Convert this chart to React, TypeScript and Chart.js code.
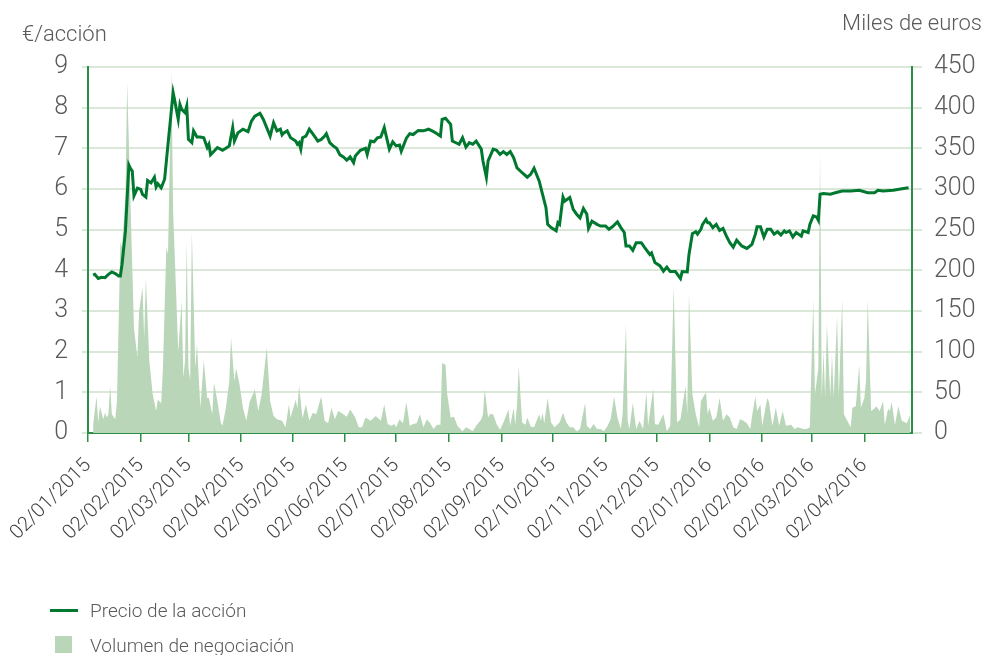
import React, { useEffect, useRef } from 'react';
import { Chart, registerables } from 'chart.js';

Chart.register(...registerables);

// x values are calendar days counted from 02/01/2015
const tickDays = [0, 31, 59, 90, 120, 151, 181, 212, 243, 273, 304, 334, 365, 396, 425, 456];
const tickLabels = [
  '02/01/2015', '02/02/2015', '02/03/2015', '02/04/2015', '02/05/2015', '02/06/2015',
  '02/07/2015', '02/08/2015', '02/09/2015', '02/10/2015', '02/11/2015', '02/12/2015',
  '02/01/2016', '02/02/2016', '02/03/2016', '02/04/2016',
];

const priceDays = [
  3, 4, 6, 8, 10, 12, 14, 16, 18, 19, 20, 22, 24, 25, 26, 27, 29, 31, 32, 34, 35, 37, 39, 40, 41, 43, 45, 47,
  50, 51, 53, 54, 55, 57, 58, 59, 61, 62, 64, 66, 68, 70, 71, 72, 74, 76, 79, 81, 83, 85, 86, 88, 91, 93, 94,
  96, 98, 101, 103, 107, 109, 111, 113, 114, 115, 117, 119, 122, 123, 124, 125, 126, 128, 130, 133, 135, 137,
  139, 140, 142, 144, 146, 148, 150, 152, 154, 156, 157, 160, 163, 164, 166, 168, 170, 172, 174, 177, 179, 181,
  183, 184, 187, 189, 191, 194, 197, 200, 203, 205, 207, 208, 210, 213, 214, 218, 220, 222, 224, 226, 228, 231,
  232, 234, 235, 238, 240, 242, 244, 246, 248, 250, 252, 255, 258, 260, 262, 265, 267, 269, 270, 272, 275, 276,
  277, 279, 280, 283, 285, 287, 289, 291, 293, 294, 296, 299, 301, 304, 306, 308, 311, 313, 315, 316, 318, 320,
  322, 325, 327, 330, 331, 333, 336, 338, 340, 342, 345, 348, 349, 352, 353, 355, 357, 358, 360, 361, 363, 364,
  365, 367, 369, 371, 373, 375, 377, 379, 381, 384, 387, 390, 392, 393, 395, 397, 399, 401, 403, 405, 407, 409,
  410, 412, 414, 416, 419, 420, 423, 424, 426, 428, 429, 430, 432, 436, 440, 443, 448, 453, 458, 462, 464, 467,
  473, 479, 482,
];
const priceValues = [
  3.88, 3.9, 3.8, 3.83, 3.82, 3.9, 3.96, 3.92, 3.86, 3.86, 4.15, 4.97, 6.59, 6.5, 6.44, 5.83, 6.02, 5.99, 5.87,
  5.8, 6.21, 6.15, 6.29, 6.05, 6.13, 6.03, 6.24, 7.1, 8.37, 8.16, 7.71, 8.08, 7.96, 7.88, 8.04, 7.22, 7.14, 7.43,
  7.28, 7.28, 7.26, 7.02, 7.1, 6.84, 6.93, 7.02, 6.95, 7.0, 7.06, 7.51, 7.18, 7.38, 7.47, 7.43, 7.41, 7.67, 7.79,
  7.86, 7.71, 7.3, 7.63, 7.43, 7.47, 7.33, 7.38, 7.43, 7.26, 7.18, 7.1, 7.14, 6.98, 7.26, 7.3, 7.47, 7.3, 7.18,
  7.22, 7.3, 7.36, 7.14, 7.06, 7.0, 6.84, 6.79, 6.71, 6.79, 6.65, 6.81, 6.95, 7.0, 6.85, 7.18, 7.16, 7.26, 7.28,
  7.51, 6.98, 7.16, 7.06, 7.08, 6.93, 7.25, 7.36, 7.34, 7.44, 7.43, 7.47, 7.41, 7.36, 7.3, 7.71, 7.74, 7.59, 7.18,
  7.1, 7.26, 7.03, 7.14, 7.1, 7.18, 6.98, 6.69, 6.29, 6.69, 6.98, 6.95, 6.85, 6.92, 6.85, 6.92, 6.77, 6.52, 6.4,
  6.29, 6.36, 6.51, 6.2, 5.87, 5.54, 5.13, 5.05, 4.97, 5.17, 5.13, 5.8, 5.7, 5.79, 5.5, 5.38, 5.29, 5.52, 5.38,
  5.03, 5.21, 5.13, 5.09, 5.09, 5.01, 5.07, 5.19, 5.05, 4.93, 4.6, 4.6, 4.49, 4.68, 4.68, 4.56, 4.39, 4.43, 4.19,
  4.11, 3.98, 4.08, 3.97, 3.97, 3.8, 3.97, 3.96, 4.39, 4.9, 4.95, 4.89, 5.01, 5.13, 5.25, 5.17, 5.17, 5.05, 5.13,
  4.98, 5.03, 4.84, 4.68, 4.57, 4.74, 4.6, 4.54, 4.64, 4.89, 5.07, 5.07, 4.82, 5.01, 5.01, 4.89, 4.95, 4.87, 4.97,
  4.93, 4.97, 4.82, 4.93, 4.84, 4.97, 4.93, 5.13, 5.34, 5.31, 5.23, 5.87, 5.89, 5.87, 5.92, 5.95, 5.95, 5.97, 5.91,
  5.91, 5.97, 5.95, 5.97, 6.01, 6.03,
];

const volumeDays = [
  3, 5, 6, 7, 9, 10, 11, 12, 13, 14, 16, 17, 19, 20, 22, 23, 25, 27, 29, 30, 32, 33, 34, 36, 38, 40, 41, 43, 44,
  46, 47, 49, 50, 52, 53, 55, 56, 57, 58, 59, 60, 61, 63, 64, 66, 68, 70, 71, 73, 74, 76, 78, 79, 81, 83, 84, 86,
  87, 89, 91, 93, 95, 97, 98, 100, 102, 105, 107, 109, 111, 114, 116, 118, 119, 122, 123, 124, 126, 128, 130, 132,
  134, 137, 139, 141, 143, 145, 147, 150, 152, 154, 157, 159, 161, 163, 166, 169, 172, 174, 176, 178, 180, 181,
  183, 185, 187, 189, 191, 193, 195, 197, 199, 201, 203, 205, 207, 208, 210, 211, 213, 215, 217, 220, 222, 224,
  226, 228, 231, 232, 233, 235, 236, 238, 240, 242, 244, 247, 248, 250, 251, 252, 253, 255, 257, 258, 260, 262,
  265, 266, 267, 268, 270, 272, 274, 277, 279, 281, 283, 285, 287, 289, 292, 293, 295, 297, 299, 301, 303, 305,
  307, 309, 311, 313, 314, 316, 317, 318, 320, 322, 324, 326, 328, 329, 332, 333, 335, 337, 338, 340, 342, 344,
  346, 348, 349, 351, 352, 353, 355, 357, 359, 360, 361, 363, 364, 365, 367, 369, 371, 373, 375, 377, 379, 381,
  383, 385, 387, 389, 390, 392, 393, 395, 396, 399, 400, 402, 404, 406, 408, 410, 413, 415, 417, 420, 422, 424,
  426, 427, 429, 430, 431, 432, 433, 434, 436, 437, 438, 440, 441, 443, 444, 446, 448, 449, 451, 453, 454, 456,
  457, 458, 460, 462, 463, 465, 467, 468, 470, 471, 472, 474, 476, 478, 481, 483,
];
const volumeValues = [
  10, 45, 13, 33, 17, 25, 19, 23, 58, 23, 17, 39, 234, 228, 293, 431, 281, 129, 93, 150, 179, 117, 191, 89, 48, 27,
  41, 37, 80, 228, 220, 445, 273, 158, 100, 162, 68, 89, 236, 80, 64, 248, 80, 109, 31, 89, 43, 43, 23, 62, 39, 13,
  9, 31, 64, 117, 64, 80, 60, 31, 15, 39, 48, 54, 27, 48, 105, 39, 21, 17, 15, 7, 35, 19, 41, 30, 58, 18, 35, 15,
  25, 23, 45, 15, 12, 31, 17, 27, 23, 20, 29, 19, 7, 7, 19, 15, 21, 15, 35, 11, 9, 11, 7, 17, 12, 38, 9, 11, 12, 23,
  7, 17, 12, 5, 10, 10, 86, 84, 48, 19, 20, 9, 2, 7, 5, 2, 9, 17, 23, 54, 19, 23, 23, 11, 4, 13, 29, 9, 31, 10, 35,
  82, 13, 10, 19, 8, 7, 23, 15, 25, 12, 43, 13, 7, 13, 25, 13, 7, 7, 2, 5, 37, 9, 5, 11, 5, 5, 2, 8, 17, 45, 19, 5,
  23, 134, 15, 5, 37, 5, 15, 5, 50, 9, 55, 11, 10, 19, 23, 2, 9, 181, 13, 17, 31, 58, 23, 172, 48, 23, 7, 39, 43, 50,
  23, 31, 15, 19, 43, 15, 23, 19, 7, 5, 17, 15, 12, 5, 20, 45, 27, 35, 9, 43, 38, 9, 31, 9, 27, 9, 10, 5, 7, 5, 5, 7,
  164, 48, 80, 347, 43, 101, 43, 134, 45, 97, 43, 144, 45, 164, 23, 15, 7, 31, 33, 84, 31, 43, 64, 164, 27, 30, 33,
  27, 39, 10, 30, 27, 38, 10, 33, 15, 12, 23,
];

const FONT = 'Roboto, "Liberation Sans", sans-serif';
const LINE_COLOR = '#00782f';
const FILL_COLOR = '#bad6b9';
const GRID_COLOR = '#dbe8d9';
const AXIS_COLOR = '#2a8f47';
const TEXT_COLOR = '#5a5a5a';

export default function App() {
  const canvasRef = useRef<HTMLCanvasElement | null>(null);

  useEffect(() => {
    document.body.style.margin = '0';
    const canvas = canvasRef.current;
    if (!canvas) return;
    const chart = new Chart(canvas, {
      type: 'line',
      data: {
        datasets: [
          {
            label: 'Precio de la acción',
            data: priceDays.map((d, i) => ({ x: d, y: priceValues[i] })),
            borderColor: LINE_COLOR,
            borderWidth: 3,
            pointRadius: 0,
            tension: 0,
            fill: false,
            yAxisID: 'y',
            order: 0,
          },
          {
            label: 'Volumen de negociación',
            data: volumeDays.map((d, i) => ({ x: d, y: volumeValues[i] })),
            borderWidth: 0,
            borderColor: 'rgba(0,0,0,0)',
            backgroundColor: FILL_COLOR,
            pointRadius: 0,
            tension: 0,
            fill: 'origin',
            yAxisID: 'y2',
            order: 1,
          },
        ],
      },
      options: {
        responsive: false,
        animation: false,
        layout: { padding: { top: 67, left: 0, right: 0, bottom: 0 } },
        plugins: {
          legend: { display: false },
          tooltip: { enabled: false },
        },
        scales: {
          x: {
            type: 'linear',
            min: 0,
            max: 484,
            afterBuildTicks: (s: any) => {
              s.ticks = tickDays.map((v) => ({ value: v }));
            },
            afterFit: (s: any) => {
              s.height = 222;
            },
            grid: {
              drawOnChartArea: false,
              drawTicks: true,
              tickLength: 9,
              color: AXIS_COLOR,
              lineWidth: 1.5,
            },
            border: { color: AXIS_COLOR, width: 2 },
            ticks: {
              autoSkip: false,
              minRotation: 45,
              maxRotation: 45,
              padding: 12,
              color: '#444',
              font: { family: FONT, size: 20, weight: '300' },
              callback: (_v: any, i: number) => tickLabels[i] ?? '',
            },
          },
          y: {
            position: 'left',
            min: 0,
            max: 9,
            afterFit: (s: any) => {
              s.width = 88;
            },
            grid: { color: GRID_COLOR, lineWidth: 2, tickLength: 6 },
            border: { color: AXIS_COLOR, width: 2 },
            ticks: {
              stepSize: 1,
              padding: 14,
              color: TEXT_COLOR,
              font: { family: FONT, size: 25, weight: '300' },
            },
          },
          y2: {
            position: 'right',
            min: 0,
            max: 450,
            afterFit: (s: any) => {
              s.width = 75;
            },
            grid: { drawOnChartArea: false, color: GRID_COLOR, lineWidth: 2, tickLength: 10 },
            border: { color: AXIS_COLOR, width: 2 },
            ticks: {
              stepSize: 50,
              padding: 12,
              color: TEXT_COLOR,
              font: { family: FONT, size: 25, weight: '300' },
            },
          },
        },
      },
    });
    return () => chart.destroy();
  }, []);

  const textStyle: React.CSSProperties = {
    position: 'absolute',
    fontFamily: FONT,
    fontWeight: 300,
    color: TEXT_COLOR,
    whiteSpace: 'nowrap',
    lineHeight: 1,
  };

  return (
    <div style={{ position: 'relative', width: 987, height: 655, background: '#fff', overflow: 'hidden' }}>
      <canvas ref={canvasRef} width={987} height={655} style={{ display: 'block', width: 987, height: 655 }} />
      <div style={{ ...textStyle, left: 22, top: 23, fontSize: 22 }}>€/acción</div>
      <div style={{ ...textStyle, right: 5, top: 12, fontSize: 22 }}>Miles de euros</div>
      <div style={{ position: 'absolute', left: 50, top: 609, width: 28, height: 3, background: LINE_COLOR }} />
      <div style={{ ...textStyle, left: 90, top: 601, fontSize: 19 }}>Precio de la acción</div>
      <div style={{ position: 'absolute', left: 55, top: 636, width: 17, height: 17, background: FILL_COLOR }} />
      <div style={{ ...textStyle, left: 90, top: 636, fontSize: 19 }}>Volumen de negociación</div>
    </div>
  );
}
